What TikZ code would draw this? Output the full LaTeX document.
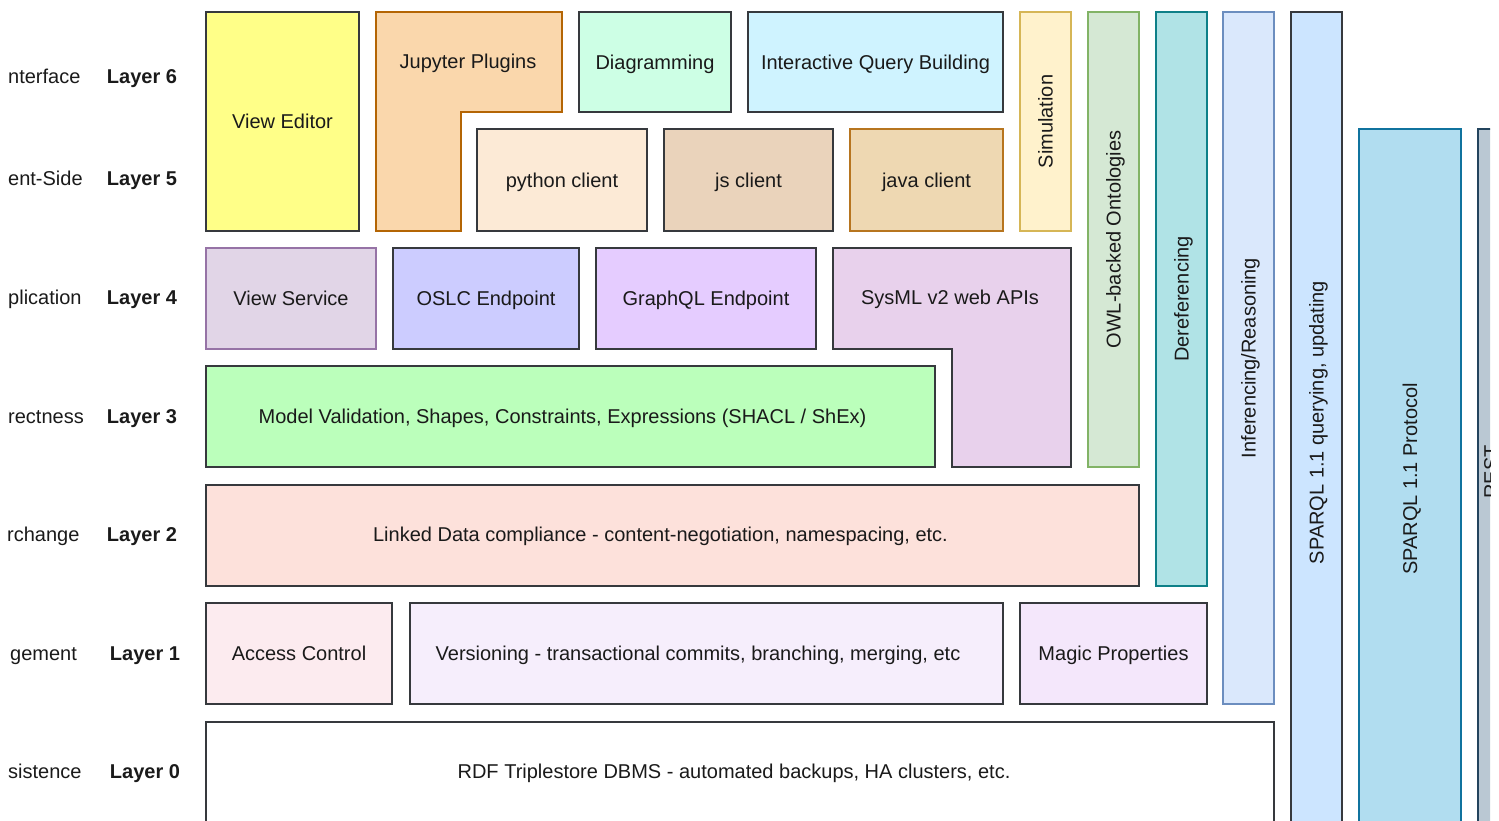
\documentclass[tikz,border=0pt]{standalone}
\usepackage{fontspec}
\setmainfont{Liberation Sans}
\definecolor{dk}{HTML}{36393D}
\definecolor{tx}{HTML}{1A1A1A}
\definecolor{cVE}{HTML}{FFFF88}
\definecolor{cJP}{HTML}{FAD7AC}
\definecolor{sJP}{HTML}{B46504}
\definecolor{cDG}{HTML}{CDFFE5}
\definecolor{cIQ}{HTML}{CFF3FF}
\definecolor{cPY}{HTML}{FCEAD6}
\definecolor{cJS}{HTML}{EAD3BB}
\definecolor{cJV}{HTML}{EED8B2}
\definecolor{sJV}{HTML}{B7751F}
\definecolor{cSI}{HTML}{FFF2CC}
\definecolor{sSI}{HTML}{D6B656}
\definecolor{cOW}{HTML}{D5E8D4}
\definecolor{sOW}{HTML}{82B366}
\definecolor{cDE}{HTML}{B0E3E6}
\definecolor{sDE}{HTML}{0E8088}
\definecolor{cIN}{HTML}{DAE8FC}
\definecolor{sIN}{HTML}{6C8EBF}
\definecolor{cSQ}{HTML}{CCE5FF}
\definecolor{cSP}{HTML}{B1DDF0}
\definecolor{sSP}{HTML}{10739E}
\definecolor{cRE}{HTML}{BAC8D3}
\definecolor{sRE}{HTML}{23445D}
\definecolor{cVS}{HTML}{E1D5E7}
\definecolor{sVS}{HTML}{9673A6}
\definecolor{cOS}{HTML}{CCCCFF}
\definecolor{cGQ}{HTML}{E5CCFF}
\definecolor{cSY}{HTML}{E8D1EC}
\definecolor{cMV}{HTML}{BBFFBB}
\definecolor{cLD}{HTML}{FDE1DB}
\definecolor{cAC}{HTML}{FCEBEF}
\definecolor{cVR}{HTML}{F6EEFC}
\definecolor{cMP}{HTML}{F4E7FB}
\tikzset{
  fnt/.style={font=\fontsize{20}{24}\selectfont, text=tx},
  box/.style={fnt, draw=dk, line width=1.5pt, inner sep=0pt, outer sep=0pt,
              text height=14.3pt, text depth=0pt, align=center},
  vbox/.style={box, rotate=90},
  txt/.style={fnt, inner sep=0pt, text height=14.3pt, text depth=0pt},
  vtxt/.style={txt, rotate=90},
  lshape/.style={line width=1.5pt, line join=miter},
  side/.style={fnt, anchor=base west, inner sep=0pt},
  layer/.style={fnt, font=\fontsize{20}{24}\selectfont\bfseries, anchor=base, inner sep=0pt},
}
\begin{document}
\begin{tikzpicture}[x=1pt,y=-1pt]
\useasboundingbox (0,0) rectangle (1499,821);
\begin{scope}
\clip (0,0) rectangle (1490,821);
% side labels
\node[side] (s6) at (8,84) {nterface};
\node[side] (s5) at (8,186) {ent-Side};
\node[side] (s4) at (8,304) {plication};
\node[side] (s3) at (8,423) {rectness};
\node[side] (s2) at (7,541) {rchange};
\node[side] (s1) at (10,660) {gement};
\node[side] (s0) at (8,778) {sistence};
\node[layer] (l6) at (142,84) {Layer 6};
\node[layer] (l5) at (142,186) {Layer 5};
\node[layer] (l4) at (142,304) {Layer 4};
\node[layer] (l3) at (142,423) {Layer 3};
\node[layer] (l2) at (142,541) {Layer 2};
\node[layer] (l1) at (145,660) {Layer 1};
\node[layer] (l0) at (145,778) {Layer 0};
% layer 6 / 5
\node[box, fill=cVE, minimum width=153, minimum height=219] (ve) at (282.5,121.5) {View Editor};
\draw[lshape, fill=cJP, draw=sJP] (376,12) -- (562,12) -- (562,112) -- (461,112) -- (461,231) -- (376,231) -- cycle;
\node[txt] (jp) at (468,61) {Jupyter Plugins};
\node[box, fill=cDG, minimum width=152, minimum height=100] (dg) at (655,62) {Diagramming};
\node[box, fill=cIQ, minimum width=255, minimum height=100] (iq) at (875.5,62) {Interactive Query Building};
\node[box, fill=cPY, minimum width=170, minimum height=102] (py) at (562,180) {python client};
\node[box, fill=cJS, minimum width=169, minimum height=102] (js) at (748.5,180) {js client};
\node[box, fill=cJV, draw=sJV, minimum width=153, minimum height=102] (jv) at (926.5,180) {java client};
% vertical columns
\node[vbox, fill=cSI, draw=sSI, minimum width=219, minimum height=51] (si) at (1045.5,121.5) {Simulation};
\node[vbox, fill=cOW, draw=sOW, minimum width=455, minimum height=51] (ow) at (1113.5,239.5) {OWL-backed Ontologies};
\node[vbox, fill=cDE, draw=sDE, minimum width=574, minimum height=51] (de) at (1181.5,299) {Dereferencing};
\node[vbox, fill=cIN, draw=sIN, minimum width=692, minimum height=51] (in) at (1248.5,358) {Inferencing/Reasoning};
\node[vbox, fill=cSQ, minimum width=821, minimum height=51] (sq) at (1316.5,422.5) {SPARQL 1.1 querying, updating};
\node[vbox, fill=cSP, draw=sSP, minimum width=700, minimum height=102] (sp) at (1410,479) {SPARQL 1.1 Protocol};
\node[vbox, fill=cRE, draw=sRE, minimum width=720, minimum height=26] (re) at (1491,489) {};
\node[vtxt] (ret) at (1491,472) {REST};
% layer 4
\node[box, fill=cVS, draw=sVS, minimum width=170, minimum height=101] (vs) at (291,298.5) {View Service};
\node[box, fill=cOS, minimum width=186, minimum height=101] (os) at (486,298.5) {OSLC Endpoint};
\node[box, fill=cGQ, minimum width=220, minimum height=101] (gq) at (706,298.5) {GraphQL Endpoint};
\draw[lshape, fill=cSY, draw=dk] (833,248) -- (1071,248) -- (1071,467) -- (952,467) -- (952,349) -- (833,349) -- cycle;
\node[txt] (sy) at (950,297) {SysML v2 web APIs};
% layer 3
\node[box, fill=cMV, minimum width=729, minimum height=101] (mv) at (570.5,416.5) {};
\node[txt] (mvt) at (562.5,416) {Model Validation, Shapes, Constraints, Expressions (SHACL / ShEx)};
% layer 2
\node[box, fill=cLD, minimum width=933, minimum height=101] (ld) at (672.5,535.5) {};
\node[txt] (ldt) at (660.5,534) {Linked Data compliance - content-negotiation, namespacing, etc.};
% layer 1
\node[box, fill=cAC, minimum width=186, minimum height=101] (ac) at (299,653.5) {Access Control};
\node[box, fill=cVR, minimum width=593, minimum height=101] (vr) at (706.5,653.5) {};
\node[txt] (vrt) at (698,653) {Versioning - transactional commits, branching, merging, etc};
\node[box, fill=cMP, minimum width=187, minimum height=101] (mp) at (1113.5,653.5) {Magic Properties};
% layer 0
\node[box, fill=white, minimum width=1068, minimum height=118] (rdf) at (740,781) {};
\node[txt] (rdft) at (734,771) {RDF Triplestore DBMS - automated backups, HA clusters, etc.};
\end{scope}
\end{tikzpicture}
\end{document}
